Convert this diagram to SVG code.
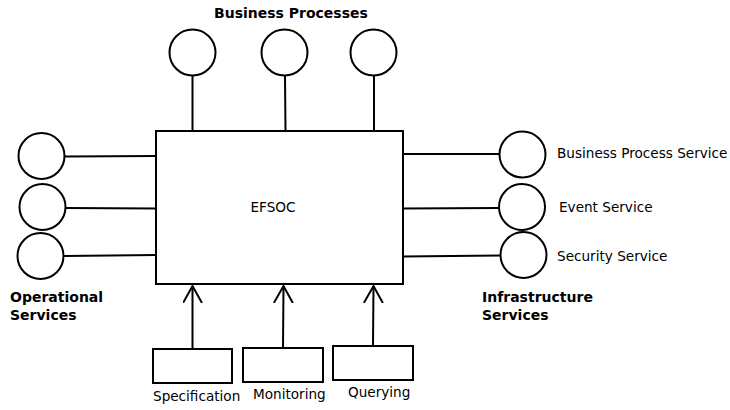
<svg xmlns="http://www.w3.org/2000/svg" width="730" height="410" viewBox="0 0 730 410">
  <style>
    .shape { fill: #fff; stroke: #000; stroke-width: 2; }
    .wire { fill: none; stroke: #000; stroke-width: 2; }
    .lbl { font-family: "DejaVu Sans", sans-serif; font-size: 13.6px; fill: #000; }
    .hdr { font-family: "DejaVu Sans", sans-serif; font-size: 14px; font-weight: bold; fill: #000; }
  </style>
  <defs>
    <marker id="openArrow" markerWidth="20" markerHeight="22" refX="17" refY="10" orient="auto" markerUnits="userSpaceOnUse">
      <path d="M0,0.5 L17,10 L0,19.5" fill="none" stroke="#000" stroke-width="2"/>
    </marker>
  </defs>

  <rect width="730" height="410" fill="#fff"/>

  <g id="connectors">
    <!-- business process stems -->
    <line class="wire" x1="192.5" y1="76" x2="192.5" y2="131"/>
    <line class="wire" x1="285" y1="76" x2="285.5" y2="131"/>
    <line class="wire" x1="374" y1="76" x2="374" y2="131"/>
    <!-- operational services -->
    <line class="wire" x1="65" y1="156.5" x2="156" y2="156"/>
    <line class="wire" x1="66" y1="208" x2="156" y2="208.5"/>
    <line class="wire" x1="64" y1="256" x2="156" y2="255"/>
    <!-- infrastructure services -->
    <line class="wire" x1="403" y1="154" x2="499" y2="154"/>
    <line class="wire" x1="403" y1="208.5" x2="499" y2="208"/>
    <line class="wire" x1="403" y1="256.5" x2="500" y2="255.5"/>
    <!-- interfaces into EFSOC -->
    <line class="wire" x1="192.5" y1="349" x2="192.5" y2="286" marker-end="url(#openArrow)"/>
    <line class="wire" x1="283" y1="348" x2="283.5" y2="286" marker-end="url(#openArrow)"/>
    <line class="wire" x1="373" y1="346" x2="373.5" y2="286" marker-end="url(#openArrow)"/>
  </g>

  <g id="efsoc">
    <rect class="shape" x="156" y="131" width="247" height="153"/>
    <text class="lbl" x="273" y="212" text-anchor="middle">EFSOC</text>
  </g>

  <g id="business-processes">
    <text class="hdr" x="214" y="18">Business Processes</text>
    <circle class="shape" cx="192.5" cy="52.5" r="23"/>
    <circle class="shape" cx="284.5" cy="52.5" r="23"/>
    <circle class="shape" cx="373.5" cy="52.5" r="23"/>
  </g>

  <g id="operational-services">
    <circle class="shape" cx="41.5" cy="156" r="23"/>
    <circle class="shape" cx="42.5" cy="207" r="23"/>
    <circle class="shape" cx="40.5" cy="256" r="23"/>
    <text class="hdr" x="10" y="302">Operational</text>
    <text class="hdr" x="10" y="320">Services</text>
  </g>

  <g id="business-process-service">
    <circle class="shape" cx="522.5" cy="154.5" r="23"/>
    <text class="lbl" x="557" y="158">Business Process Service</text>
  </g>
  <g id="event-service">
    <circle class="shape" cx="522" cy="207" r="23"/>
    <text class="lbl" x="559" y="212">Event Service</text>
  </g>
  <g id="security-service">
    <circle class="shape" cx="523.5" cy="255" r="23"/>
    <text class="lbl" x="557" y="261">Security Service</text>
  </g>
  <g id="infrastructure-services">
    <text class="hdr" x="482" y="302">Infrastructure</text>
    <text class="hdr" x="482" y="320">Services</text>
  </g>

  <g id="specification">
    <rect class="shape" x="153" y="349" width="79" height="34"/>
    <text class="lbl" x="153" y="401">Specification</text>
  </g>
  <g id="monitoring">
    <rect class="shape" x="243" y="348" width="80" height="34"/>
    <text class="lbl" x="253" y="399">Monitoring</text>
  </g>
  <g id="querying">
    <rect class="shape" x="333" y="346" width="80" height="34"/>
    <text class="lbl" x="348" y="397">Querying</text>
  </g>
</svg>
